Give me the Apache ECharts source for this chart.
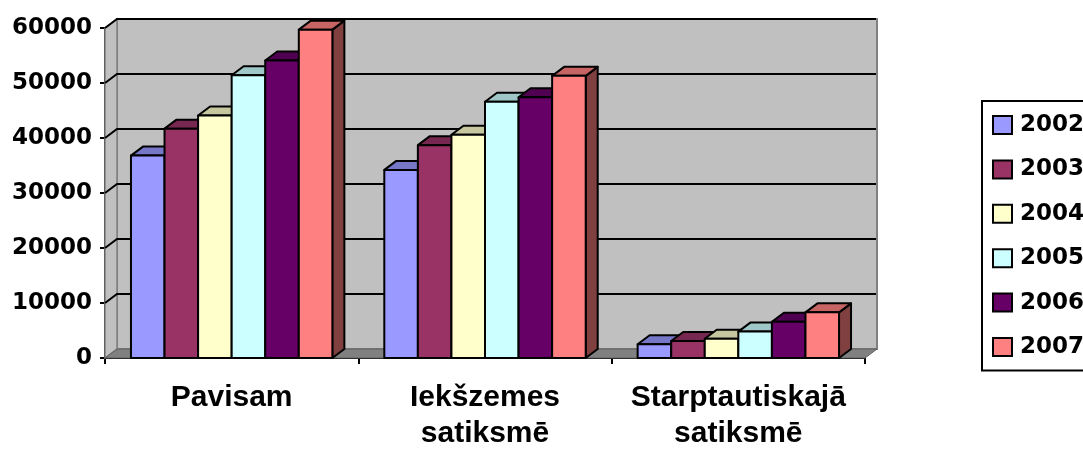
<!DOCTYPE html>
<html>
<head>
<meta charset="utf-8">
<script src="https://cdn.jsdelivr.net/npm/echarts@6/dist/echarts.min.js"></script>
<style>
  html, body { margin: 0; padding: 0; background: #fff; }
  #chart { width: 1083px; height: 452px; }
</style>
</head>
<body>
<div id="chart"></div>
<script>
// Passenger counts by traffic type, 2002–2007
const categories = ['Pavisam', 'Iekšzemes\nsatiksmē', 'Starptautiskajā\nsatiksmē'];
const years = ['2002', '2003', '2004', '2005', '2006', '2007'];
const v2002 = [36800, 34200, 2500];
const v2003 = [41700, 38700, 3100];
const v2004 = [44100, 40600, 3500];
const v2005 = [51400, 46600, 4800];
const v2006 = [54100, 47400, 6600];
const v2007 = [59700, 51300, 8300];
const yTicks = [0, 10000, 20000, 30000, 40000, 50000, 60000];

const seriesValues = [v2002, v2003, v2004, v2005, v2006, v2007];
const colors = ['#9999FF', '#993366', '#FFFFCC', '#CCFFFF', '#660066', '#FF8080'];

// 3D look: depth offset of the back plane and share of the band the bar cluster uses
const DX = 12, DY = -9;
const GROUP = 0.795;

function shade(hex, k) {
  const n = parseInt(hex.slice(1), 16);
  const r = Math.round(((n >> 16) & 255) * k);
  const g = Math.round(((n >> 8) & 255) * k);
  const b = Math.round((n & 255) * k);
  return 'rgb(' + r + ',' + g + ',' + b + ')';
}

// Walls, floor and gridlines of the 3D box
function renderWalls(params, api) {
  const cs = params.coordSys;
  const x0 = cs.x, x1 = cs.x + cs.width;
  const yBase = api.coord([0, yTicks[0]])[1];
  const yTop = api.coord([0, yTicks[yTicks.length - 1]])[1];
  const children = [];
  // back wall
  children.push({
    type: 'rect',
    shape: { x: x0 + DX, y: yTop + DY, width: x1 - x0, height: yBase - yTop },
    style: { fill: '#C0C0C0', stroke: '#808080', lineWidth: 2 }
  });
  // left side wall
  children.push({
    type: 'polygon',
    shape: { points: [[x0, yBase], [x0 + DX, yBase + DY], [x0 + DX, yTop + DY], [x0, yTop]] },
    style: { fill: '#C0C0C0', stroke: '#808080', lineWidth: 1.5 }
  });
  // gridlines on side and back walls
  yTicks.slice(1).forEach(function (t) {
    const y = api.coord([0, t])[1];
    children.push({
      type: 'polyline',
      shape: { points: [[x0, y], [x0 + DX, y + DY], [x1 + DX - 1, y + DY]] },
      style: { stroke: '#000', lineWidth: 2, fill: null }
    });
  });
  // floor
  children.push({
    type: 'polygon',
    shape: { points: [[x0, yBase], [x1, yBase], [x1 + DX, yBase + DY], [x0 + DX, yBase + DY]] },
    style: { fill: '#808080', stroke: '#606060', lineWidth: 1 }
  });
  return { type: 'group', children: children };
}

// One 3D column: right side, top and front face
function makeBarRenderer(sIdx) {
  return function (params, api) {
    const ci = api.value(0), v = api.value(1);
    const p0 = api.coord([ci, 0]);
    const p1 = api.coord([ci, v]);
    const band = api.size([1, 0])[0];
    const gw = band * GROUP;
    const bw = gw / years.length;
    const xl = p0[0] - gw / 2 + sIdx * bw;
    const xr = xl + bw;
    const yb = p0[1], yt = p1[1];
    const c = colors[sIdx];
    const edge = { stroke: '#000', lineWidth: 2, lineJoin: 'round' };
    return {
      type: 'group',
      children: [
        { type: 'polygon', shape: { points: [[xr, yb], [xr + DX, yb + DY], [xr + DX, yt + DY], [xr, yt]] },
          style: Object.assign({ fill: shade(c, 0.5) }, edge) },
        { type: 'polygon', shape: { points: [[xl, yt], [xr, yt], [xr + DX, yt + DY], [xl + DX, yt + DY]] },
          style: Object.assign({ fill: shade(c, 0.78) }, edge) },
        { type: 'rect', shape: { x: xl, y: yt, width: bw, height: yb - yt },
          style: Object.assign({ fill: c }, edge) }
      ]
    };
  };
}

const series = [{
  type: 'custom',
  name: 'walls',
  silent: true,
  z: 1,
  renderItem: renderWalls,
  data: [[0, 0]],
  encode: { x: 0, y: 1 }
}];
years.forEach(function (y, i) {
  series.push({
    type: 'custom',
    name: y,
    z: 3,
    itemStyle: { color: colors[i] },
    renderItem: makeBarRenderer(i),
    data: seriesValues[i].map(function (v, ci) { return [ci, v]; }),
    encode: { x: 0, y: 1 }
  });
});

const chart = echarts.init(document.getElementById('chart'), null, { renderer: 'canvas' });
chart.setOption({
  animation: false,
  backgroundColor: '#fff',
  grid: { left: 105, right: 218, top: 28, bottom: 81, containLabel: false },
  xAxis: {
    type: 'category',
    data: categories,
    axisLine: { lineStyle: { color: '#000', width: 2 } },
    axisTick: { show: true, length: 6, lineStyle: { color: '#000', width: 2 } },
    axisLabel: {
      interval: 0,
      color: '#000', fontFamily: 'Liberation Sans', fontWeight: 'bold',
      fontSize: 30, lineHeight: 36, margin: 22
    },
    splitLine: { show: false }
  },
  yAxis: {
    type: 'value',
    min: 0, max: 60000, interval: 10000,
    axisLine: { show: true, lineStyle: { color: '#000', width: 2 } },
    axisTick: { show: true, length: 5, lineStyle: { color: '#000', width: 2 } },
    axisLabel: {
      color: '#000', fontFamily: 'DejaVu Sans', fontWeight: 'bold',
      fontSize: 23, margin: 13,
      formatter: function (v) { return String(v); }
    },
    splitLine: { show: false }
  },
  legend: {
    data: years,
    orient: 'vertical',
    left: 982,
    top: 101,
    icon: 'rect',
    itemWidth: 19,
    itemHeight: 18,
    itemGap: 21.4,
    padding: [12.5, 40, 12, 10],
    borderColor: '#000',
    borderWidth: 2,
    backgroundColor: '#fff',
    itemStyle: { borderColor: '#000', borderWidth: 2 },
    textStyle: {
      color: '#000', fontFamily: 'DejaVu Sans', fontWeight: 'bold',
      fontSize: 23, padding: [0, 0, 0, 3]
    }
  },
  series: series
});
</script>
</body>
</html>
